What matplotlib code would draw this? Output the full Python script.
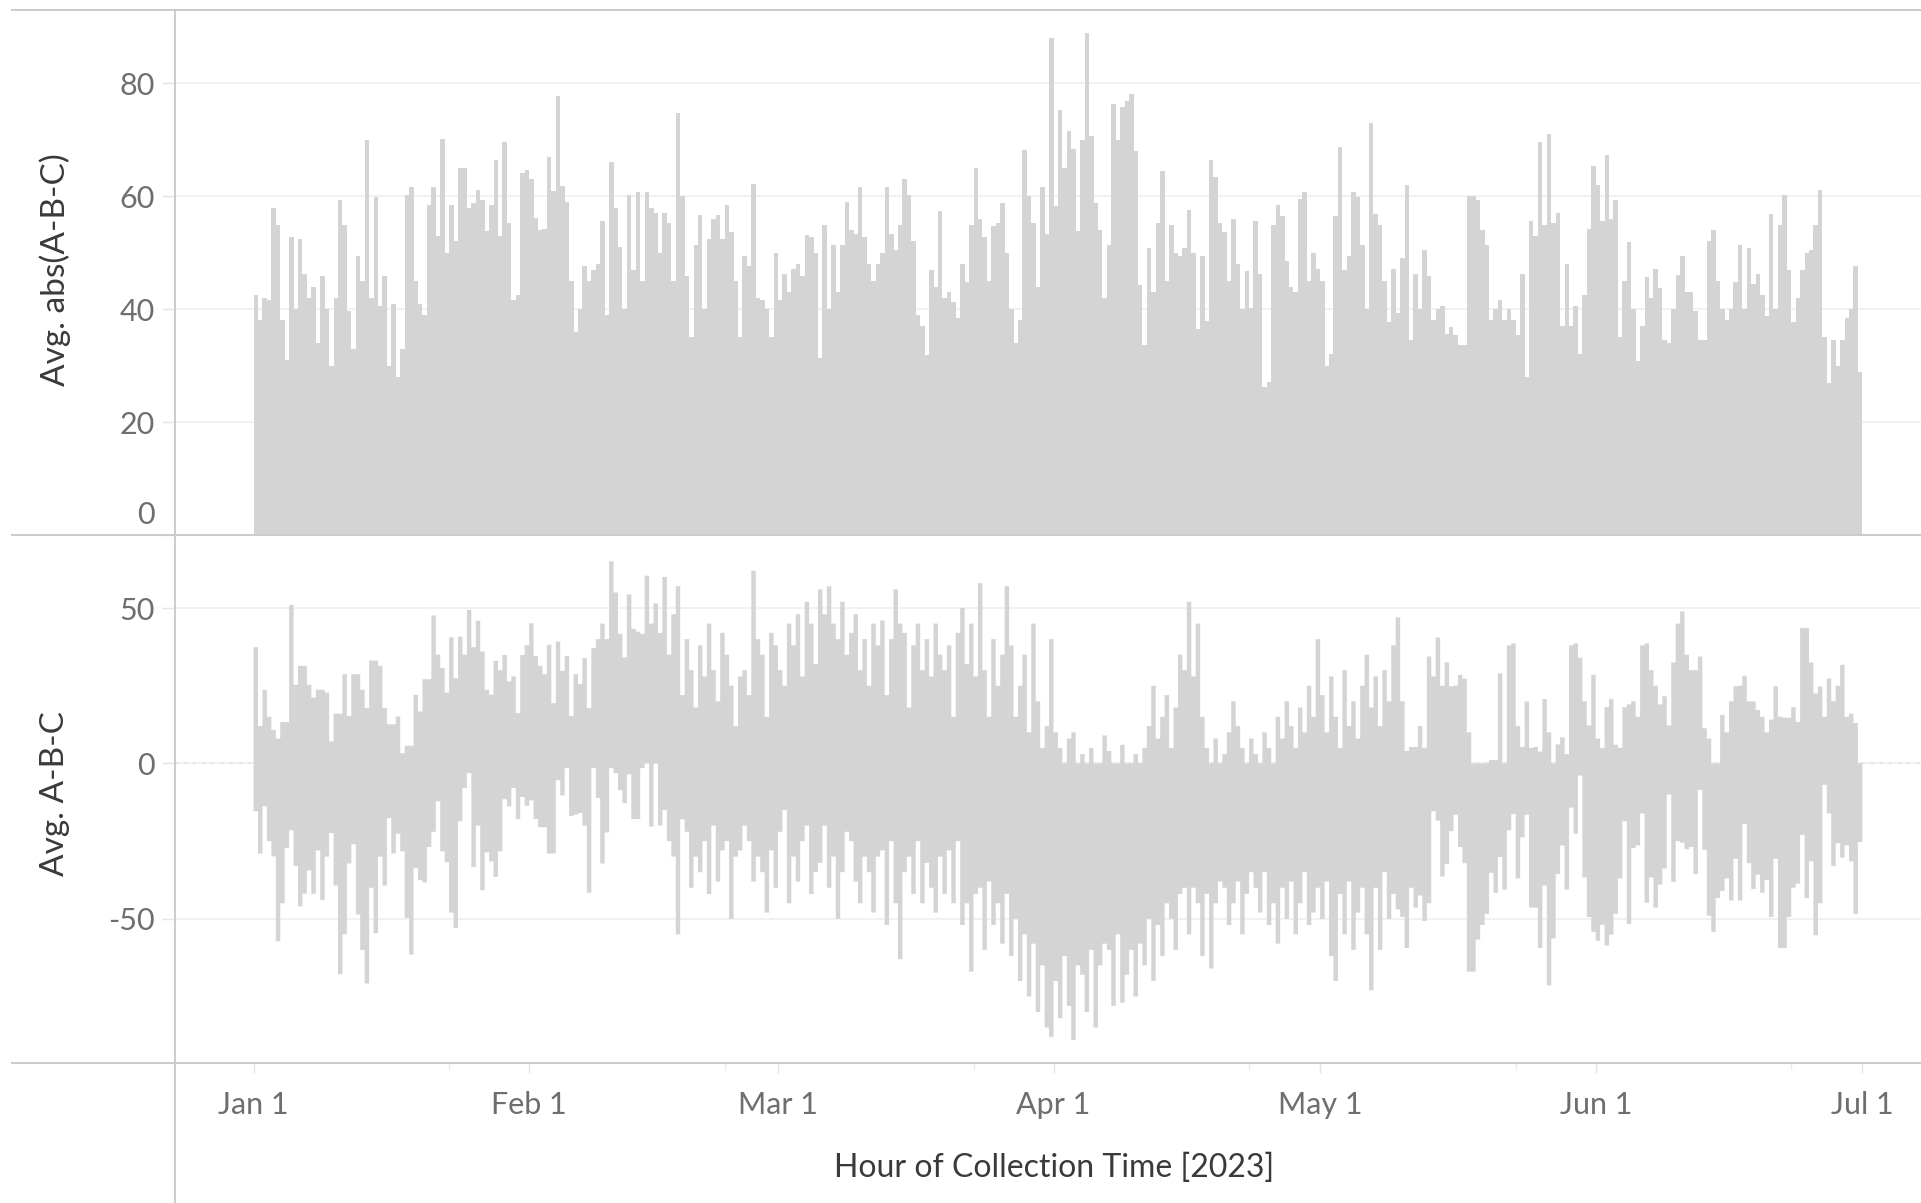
import numpy as np
import matplotlib.pyplot as plt
from matplotlib.lines import Line2D
from matplotlib.transforms import ScaledTranslation

plt.rcParams["font.family"] = ["Lato", "DejaVu Sans"]
plt.rcParams["axes.unicode_minus"] = False

# --------------------------------------------------------------------------
# Data: one value every 12 h starting 2023-01-01 00:00
# --------------------------------------------------------------------------
STEP_DAYS = 0.5

# Avg. abs(A-B-C)
abs_diff = [
    42.5, 38, 42, 41.6, 58, 55, 38, 31, 52.8, 40,
    52.4, 46.3, 42, 44, 34, 45.8, 40, 30, 42, 59.3,
    55, 39.7, 33, 49.5, 45, 70, 42, 59.8, 40.6, 45.8,
    30, 41, 28, 33, 60.3, 61.6, 45, 41, 39, 58.5,
    61.6, 53, 70.1, 50, 58.4, 52, 65, 65, 58, 58.8,
    61.2, 59.4, 53.8, 58.5, 66.5, 53, 69.7, 55.3, 41.6, 42.5,
    64.1, 64.6, 63, 56.2, 54, 54.2, 67, 60.9, 77.8, 61.8,
    59, 45, 36, 40, 47.6, 45, 47, 48, 55.6, 38.9,
    66, 58, 51, 40, 60.3, 47, 60.7, 45, 60.7, 58,
    57, 50, 57, 55.2, 45, 74.8, 60, 45.8, 35, 51.4,
    56.6, 40, 52.4, 56, 56.6, 52.4, 58.4, 53.7, 45, 35,
    49.5, 47.6, 62.2, 42, 41.6, 40.1, 35, 50, 41.6, 46.2,
    43, 47.2, 48, 45.9, 53.2, 52.8, 50, 31.3, 55, 40,
    51.4, 43, 51.4, 59, 54, 53.4, 61.6, 52.8, 48, 45,
    48, 50, 61.6, 53.4, 50.5, 55, 63.1, 60.3, 52, 39,
    37, 31.8, 47, 44, 57.4, 42, 43, 41.2, 38.4, 48,
    44.8, 55, 65, 56, 52.8, 45, 54.7, 55.2, 58.8, 50,
    40, 34, 38, 68.2, 60, 55.2, 43.9, 61.6, 53.4, 88,
    58.2, 75.3, 65, 71.6, 68.4, 53.8, 70, 89, 70.6, 58.8,
    54.1, 42, 51.4, 76.3, 70, 75.8, 76.8, 78.1, 68, 44.3,
    33.6, 50.9, 43, 55.2, 64.5, 45, 55, 50, 49.4, 50.9,
    57.5, 50, 36.5, 49.5, 37.9, 66.5, 63.5, 55.2, 53.6, 45,
    56, 48, 40, 46.8, 40.3, 55.6, 46.2, 26.2, 27.1, 55,
    58.4, 56.5, 48.6, 43.9, 43, 59.5, 60.8, 45, 50, 47.2,
    45, 30, 32, 56.5, 68.7, 47, 49.5, 60.8, 59.8, 51.4,
    40, 72.9, 56.9, 55, 45, 37.8, 47.2, 39.3, 49, 62,
    34.6, 46.2, 40, 50.4, 45.8, 38, 40, 40.6, 35.6, 36.9,
    35.4, 33.6, 33.6, 60, 60, 59.4, 54, 51.4, 38, 40,
    41.6, 38, 40.1, 38, 35.4, 46.2, 28, 55.6, 53, 69.7,
    55, 71.1, 55.3, 57, 37, 48, 37, 40.6, 32, 42.5,
    54.2, 65.4, 62, 55.7, 67.4, 56, 59.3, 35, 45, 51.9,
    40, 30.9, 37, 45.7, 42, 47.2, 43.8, 34.5, 34, 40,
    46, 49.5, 43, 43, 39.7, 34.5, 34.5, 52, 54, 45,
    40.1, 38, 40, 44.8, 51.4, 40, 50.9, 44.4, 46.2, 42.5,
    38.8, 56.9, 40, 55, 60.3, 47, 37.8, 42, 47, 50,
    50.5, 55, 61.2, 35, 27, 34.5, 30, 34.5, 38.4, 40,
    47.6, 28.9,
]

# Avg. A-B-C, upper and lower reach inside each 12 h step
diff_high = [
    37.4, 12, 23.7, 15, 10.8, 8, 13.3, 13.3, 51, 25.3,
    31.4, 31.4, 25.3, 21.2, 23.7, 23.7, 22.8, 7.1, 16, 16,
    28.7, 15.3, 28.7, 28.7, 23.7, 17.8, 33.1, 33.1, 31.4, 17.8,
    12.6, 12.6, 15.1, 3.3, 5.7, 5.7, 22.1, 16.7, 27.1, 27.1,
    47.6, 35, 30.7, 22.8, 40.6, 27.4, 40.8, 35, 49.4, 37.4,
    45.9, 36, 23.7, 22.1, 33, 30, 34.9, 26.4, 28, 16.2,
    34.9, 38, 45.1, 34.6, 31.4, 28.7, 38.2, 19.4, 39.2, 29.8,
    34.6, 15.3, 28.7, 25.5, 33.9, 17.8, 37.1, 40, 45, 40,
    65, 55, 41.7, 34.1, 54.4, 43.3, 42.4, 41.7, 60.4, 45,
    51.5, 42, 60, 35, 48, 57, 22, 40, 30, 18,
    38, 28, 45, 30, 20, 42, 35, 25, 12, 28,
    30, 22, 62, 40, 35, 15, 42, 38, 30, 25,
    45, 38, 48, 28, 52, 45, 32, 56, 48, 57,
    45, 40, 52, 35, 42, 48, 30, 40, 25, 45,
    38, 46, 22, 40, 56, 45, 42, 18, 38, 45,
    30, 40, 28, 45, 35, 30, 38, 15, 42, 50,
    32, 45, 28, 58, 30, 15, 40, 25, 35, 57,
    38, 15, 25, 35, 10, 45, 20, 5, 12, 40,
    10, 5, 0, 8, 10, 0, 3, 0, 5, 0,
    0, 9, 4, 0, 0, 6, 0, 0, 3, 0,
    5, 12, 25, 8, 15, 22, 5, 18, 35, 30,
    52, 28, 45, 15, 5, 0, 8, 0, 3, 10,
    20, 12, 5, 0, 8, 3, 0, 10, 5, 0,
    15, 8, 20, 12, 5, 18, 10, 25, 15, 40,
    22, 10, 28, 15, 5, 30, 12, 20, 8, 25,
    35, 18, 28, 12, 30, 20, 38, 47, 20, 4,
    5.3, 5.3, 12, 5, 34.4, 28, 40.5, 25, 32.5, 24.8,
    25, 28.5, 27.3, 10, 0, 0, 0, 0, 1.1, 1.1,
    29, 0, 38, 38.6, 12, 5.3, 19.9, 5, 5.3, 3.8,
    20.7, 10, 0, 6.1, 8.4, 3, 38, 38.6, 34, 20,
    12.2, 28.5, 8, 5, 18.1, 20.7, 6, 5, 18.1, 19,
    20, 15, 38, 38.6, 30, 25, 19, 21.6, 12.2, 32.5,
    45, 48.9, 35, 30, 30, 34.4, 11.3, 8, 0, 0,
    15.6, 10, 20, 24.8, 25, 28.2, 20, 19.9, 17.2, 15,
    10, 14.1, 24.8, 15, 14.7, 14.7, 18.1, 13.3, 43.6, 43.6,
    32.5, 22.5, 24.8, 15, 27.3, 20, 25, 31.7, 15, 16,
    13, 0,
]
diff_low = [
    -15.4, -29, -13.8, -25, -29.9, -57.2, -45, -27.2, -21.5, -33,
    -46, -41.9, -34.4, -41.9, -28, -44, -30, -22.4, -39.3, -67.8,
    -55, -32.2, -26, -48.6, -60, -70.8, -40, -54.6, -30, -39.3,
    -17.6, -29, -22.6, -28.3, -49.7, -61.5, -33.7, -37.6, -38.3, -26.9,
    -22, -12.2, -28.3, -31.8, -48, -52.9, -18.6, -7.9, -3.1, -33.3,
    -20, -40.8, -28.6, -31.5, -36.5, -28.3, -11.5, -13.8, -7.9, -17.9,
    -10.8, -13.6, -11.9, -17.9, -20.5, -20.5, -29, -29, -5.4, -10.3,
    -1.5, -16.9, -16.5, -16, -20, -41.6, -1.5, -11.1, -32.2, -22.2,
    -1.5, -3.1, -8.6, -12.8, -3.5, -17.9, -17.9, -1.5, 0, -20.3,
    0, -20, -15, -25, -30, -55, -18, -22, -40, -30,
    -35, -25, -42, -20, -38, -28, -25, -50, -30, -28,
    -20, -25, -38, -30, -35, -48, -28, -40, -22, -15,
    -45, -30, -38, -25, -20, -42, -35, -32, -20, -40,
    -30, -50, -35, -22, -25, -38, -45, -30, -35, -48,
    -30, -28, -52, -25, -45, -63, -35, -30, -42, -25,
    -45, -32, -40, -48, -30, -42, -28, -45, -25, -52,
    -45, -67, -42, -40, -60, -38, -52, -45, -58, -42,
    -62, -50, -70, -55, -75, -58, -80, -65, -85, -88,
    -70, -82, -62, -78, -89, -65, -68, -80, -60, -85,
    -65, -58, -60, -78, -55, -77, -68, -60, -75, -58,
    -65, -50, -70, -52, -62, -45, -50, -60, -42, -40,
    -55, -40, -45, -62, -42, -66, -45, -38, -40, -52,
    -45, -38, -55, -42, -35, -40, -48, -35, -52, -45,
    -58, -40, -50, -38, -55, -45, -35, -52, -48, -40,
    -50, -38, -62, -70, -42, -55, -38, -60, -48, -40,
    -55, -73, -40, -60, -35, -50, -42, -47, -49.4, -59.4,
    -40, -46.4, -42.5, -50.7, -45, -15.4, -18.4, -36.4, -32.4, -21.8,
    -16.5, -26.9, -32.1, -67, -67, -56.7, -52, -48.4, -35.2, -41.6,
    -30.1, -40.6, -21.5, -16.3, -37, -23.8, -16.5, -46.4, -46.4, -59.4,
    -39.3, -71.4, -56.3, -35.6, -26.4, -40.6, -14.2, -22.6, -3.9, -36.7,
    -49.4, -54.2, -57.1, -51.9, -58.6, -55.1, -48.4, -37, -18.6, -51.7,
    -27.2, -26.4, -16.1, -44.8, -36.7, -46.4, -39, -33.8, -10, -38.1,
    -25, -25.5, -27.6, -26.9, -35.6, -8.5, -27.8, -49, -54.2, -43.3,
    -41, -37, -44.1, -30.7, -44.1, -19.5, -32.1, -40.4, -35.8, -41.6,
    -37.5, -49.4, -30.7, -59.4, -59.4, -49.4, -40, -38.7, -23, -43.3,
    -31.5, -55.3, -45, -6.9, -16.1, -33, -25.7, -30.3, -26.4, -31.5,
    -48.4, -25.3,
]

month_labels = ["Jan 1", "Feb 1", "Mar 1", "Apr 1", "May 1", "Jun 1", "Jul 1"]
month_dates = ["2023-01-01", "2023-02-01", "2023-03-01", "2023-04-01",
               "2023-05-01", "2023-06-01", "2023-07-01"]
mid_dates = ["2023-01-23", "2023-02-23", "2023-03-23", "2023-04-23",
             "2023-05-23", "2023-06-23"]

BAR = "#d4d4d4"
LINE = "#cbcbcb"
GRID = "#efefef"
TICK_TXT = "#6e6e6e"
TITLE_TXT = "#3a3a3a"


def days_since_start(dates):
    d = np.array(dates, dtype="datetime64[D]")
    return (d - np.datetime64("2023-01-01")).astype(float)


def edges_for(values):
    return np.arange(len(values) + 1) * STEP_DAYS


def style_y(ax, ticks):
    ax.set_yticks(ticks)
    ax.yaxis.grid(True, color=GRID, lw=1.2)
    ax.set_axisbelow(True)
    ax.tick_params(axis="y", length=9.5, width=1.0, color="#e4e4e4",
                   labelsize=22, labelcolor=TICK_TXT, pad=5)
    for s in ax.spines.values():
        s.set_visible(False)


W, H = 1921, 1203
fig = plt.figure(figsize=(W / 100, H / 100), dpi=100)
left = 175 / W
ax1 = fig.add_axes([left, 1 - 535 / H, 1 - left, 525 / H])
ax2 = fig.add_axes([left, 1 - 1063 / H, 1 - left, 528 / H])

x_min, x_max = -8.84, 187.6

# top panel: average absolute deviation
ax1.stairs(abs_diff, edges_for(abs_diff), baseline=0, fill=True,
           color=BAR, lw=0)
ax1.set_xlim(x_min, x_max)
ax1.set_ylim(0, 93)
style_y(ax1, [0, 20, 40, 60, 80])
ax1.set_xticks([])
# keep the "0" label inside the panel
zero_lbl = ax1.get_yticklabels()[0]
zero_lbl.set_va("bottom")
zero_lbl.set_transform(zero_lbl.get_transform()
                       + ScaledTranslation(0, 0.06, fig.dpi_scale_trans))

# bottom panel: signed deviation
ax2.axhline(0, color="#9c9c9c", lw=1.2, ls=(0, (1.5, 4)), zorder=0.5)
ax2.stairs(diff_high, edges_for(diff_high), baseline=diff_low, fill=True,
           color=BAR, lw=0, zorder=1)
ax2.set_xlim(x_min, x_max)
ax2.set_ylim(-96.4, 73.5)
style_y(ax2, [-50, 0, 50])

ax2.set_xticks(days_since_start(month_dates))
ax2.set_xticklabels(month_labels)
ax2.set_xticks(days_since_start(mid_dates), minor=True)
ax2.tick_params(axis="x", which="major", length=7, width=1.0, color="#e4e4e4",
                labelsize=22, labelcolor=TICK_TXT, pad=13)
ax2.tick_params(axis="x", which="minor", length=5, width=1.0, color="#ececec")

# frame lines shared by both panels
for y in (10, 535, 1063):
    fig.add_artist(Line2D([12 / W, 1], [1 - y / H] * 2, color=LINE, lw=1.4))
fig.add_artist(Line2D([left, left], [0, 1 - 10 / H], color=LINE, lw=1.4))

fig.text(55 / W, 1 - 270 / H, "Avg. abs(A-B-C)", rotation=90, ha="center",
         va="center", fontsize=24, color=TITLE_TXT)
fig.text(55 / W, 1 - 794 / H, "Avg. A-B-C", rotation=90, ha="center",
         va="center", fontsize=24, color=TITLE_TXT)
fig.text(1054 / W, 1 - 1168 / H, "Hour of Collection Time [2023]",
         ha="center", va="center", fontsize=23, color=TITLE_TXT)

fig.savefig("out.png", dpi=100)
